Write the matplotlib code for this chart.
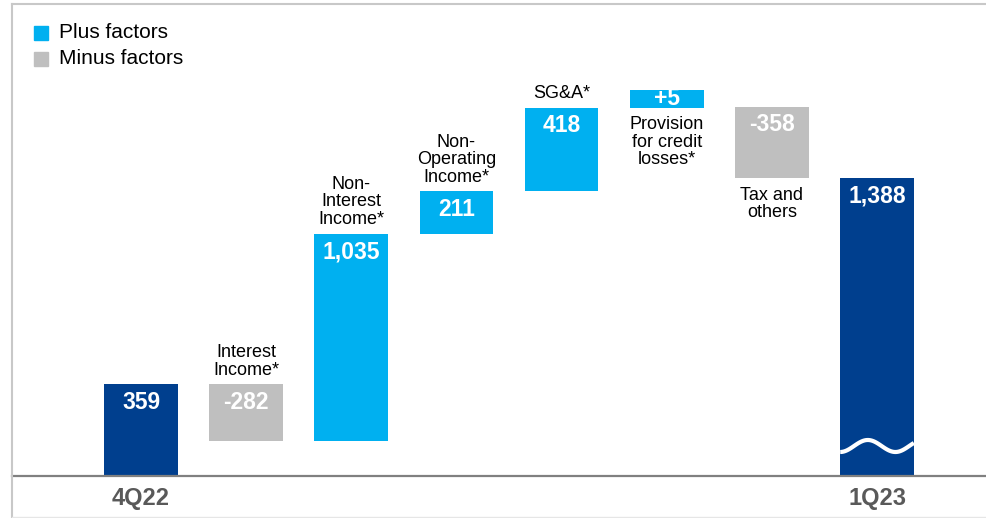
import matplotlib
matplotlib.use("Agg")
import matplotlib.pyplot as plt
import numpy as np
from matplotlib.lines import Line2D
from matplotlib.patches import Rectangle

plt.rcParams['font.family'] = ['Liberation Sans', 'DejaVu Sans']

# data
ejes = ["4Q22", "", "", "", "", "", "", "1Q23"]
categorias = ["", "Interest\nIncome*", "Non-\nInterest\nIncome*", "Non-\nOperating\nIncome*",
              "SG&A*", "Provision\nfor credit\nlosses*", "Tax and\nothers", ""]
tipos = ["total", "step", "step", "step", "step", "step", "step", "total"]
valores = [359, -282, 1035, 211, 418, 5, -358, 1388]
etiquetas = ["359", "-282", "1,035", "211", "418", "+5", "-358", "1,388"]
pos_label = ["", "above", "above", "above", "above", "below", "below", ""]

AZUL = '#003F8E'
CELESTE = '#00B0F0'
GRIS = '#BFBFBF'

fig = plt.figure(figsize=(9.87, 5.18), dpi=100)
ax = fig.add_axes([0, 0, 1, 1])
ax.set_xlim(-1.341, 8.046)
ax.set_ylim(-310, 2280)
ax.axis('off')

base_eje = -100   # bars that start at the broken axis
min_alto = 90     # tiny steps still get a visible bar
ancho = 0.70

acum = 0
for i, (tipo, v) in enumerate(zip(tipos, valores)):
    chica = False
    if tipo == "total":
        abajo = base_eje
        arriba = v
        color = AZUL
        acum = v
    else:
        inicio = acum
        acum = acum + v
        abajo = min(inicio, acum)
        arriba = max(inicio, acum)
        if arriba - abajo < min_alto:
            arriba = abajo + min_alto
            chica = True
        color = CELESTE if v > 0 else GRIS
    barras = ax.bar(i, arriba - abajo, bottom=abajo, width=ancho, color=color, zorder=2)

    # value inside the bar
    if chica:
        txt = ax.text(i, (arriba + abajo) / 2, etiquetas[i], ha='center', va='center',
                      color='white', fontsize=16.5, fontweight='bold', zorder=4)
    else:
        txt = ax.annotate(etiquetas[i], (i, arriba), xytext=(0, -13), textcoords='offset points',
                          ha='center', va='center', color='white', fontsize=16.5,
                          fontweight='bold', zorder=4)
    txt.set_clip_path(barras.patches[0])

    # category text
    if pos_label[i] == "above":
        ax.annotate(categorias[i], (i, arriba), xytext=(0, 4), textcoords='offset points',
                    ha='center', va='bottom', fontsize=13, linespacing=1.05, color='black')
    elif pos_label[i] == "below":
        ax.annotate(categorias[i], (i, abajo), xytext=(0, -6), textcoords='offset points',
                    ha='center', va='top', fontsize=13, linespacing=1.05, color='black')

    if ejes[i]:
        ax.text(i, -210, ejes[i], ha='center', va='center', fontsize=17,
                fontweight='bold', color='#595959')

# wave on the last bar (broken axis)
t = np.linspace(0, 1, 100)
xs = len(valores) - 1 - ancho / 2 + ancho * t
ys = 50 - 30 * np.cos(2 * np.pi * t / 0.75)
ax.plot(xs, ys, color='white', lw=3, solid_capstyle='butt', zorder=3)

# axis line
x0 = ax.get_xlim()[0] + 12 / 105.14
ax.plot([x0, ax.get_xlim()[1]], [base_eje, base_eje], color='#808080', lw=1.6, zorder=3)

# frame
W, H = 987.0, 518.0
fig.add_artist(Line2D([12 / W, 12 / W], [1 - 4 / H, 1 - 517 / H], transform=fig.transFigure,
                      color='#C8C8C8', lw=1.5))
fig.add_artist(Line2D([12 / W, 1], [1 - 4 / H, 1 - 4 / H], transform=fig.transFigure,
                      color='#C8C8C8', lw=1.5))
fig.add_artist(Line2D([12 / W, 1], [1 - 517 / H, 1 - 517 / H], transform=fig.transFigure,
                      color='#E6E6E6', lw=1))

# legend
for j, (txt, col) in enumerate([("Plus factors", CELESTE), ("Minus factors", GRIS)]):
    yc = 33 + 26 * j
    fig.add_artist(Rectangle((34 / W, 1 - (yc + 7) / H), 14 / W, 14 / H,
                             transform=fig.transFigure, color=col))
    fig.text(59 / W, 1 - yc / H, txt, ha='left', va='center', fontsize=15, color='black')

fig.savefig("out.png", dpi=100)
